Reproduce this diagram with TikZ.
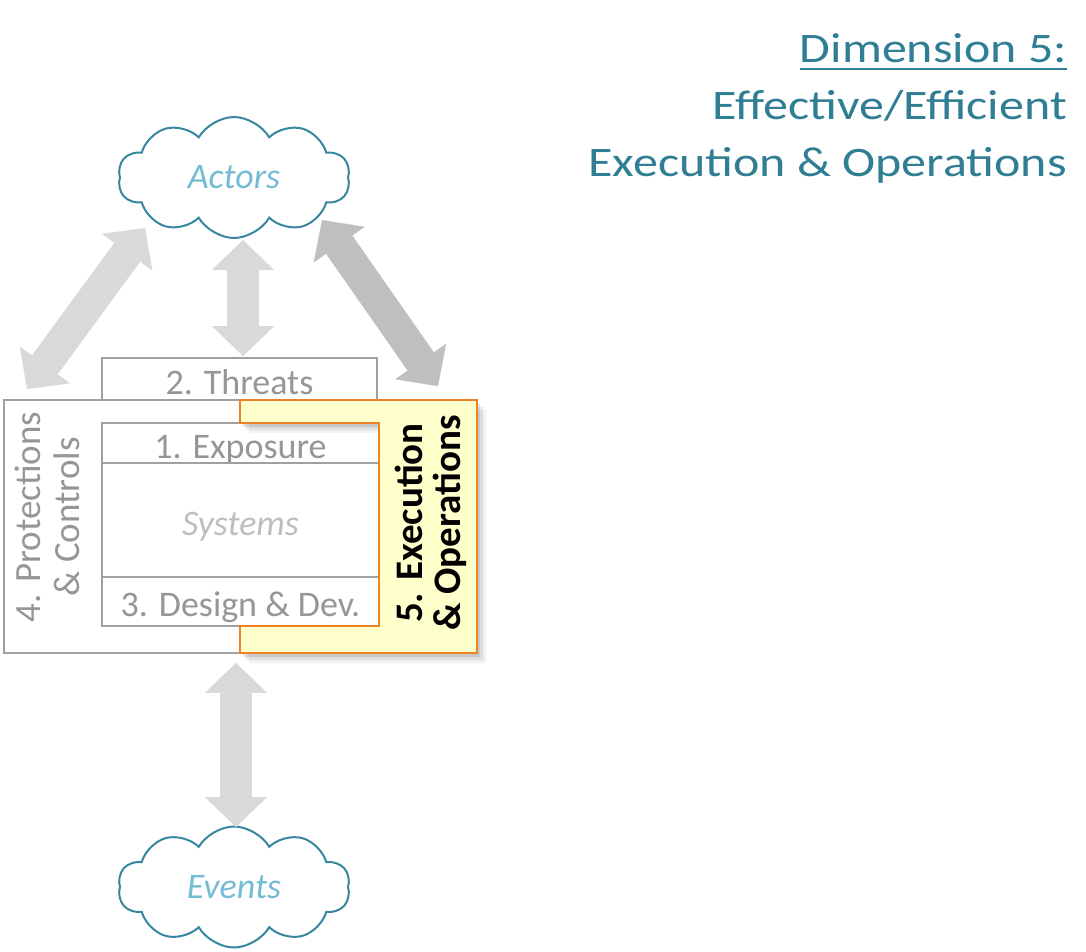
\documentclass[tikz,border=0pt]{standalone}
\usepackage{fontspec}
\setmainfont{Carlito}
\newfontfamily\titlefont[FakeStretch=1.19]{Carlito}
\usepackage{xcolor}
\usepackage{tikz}
\usetikzlibrary{shapes.symbols,arrows.meta,shadows,calc}

\definecolor{dimteal}{RGB}{47,126,147}
\definecolor{cloudline}{RGB}{55,135,160}
\definecolor{cloudtext}{RGB}{115,188,212}
\definecolor{boxgray}{RGB}{160,160,160}
\definecolor{textgray}{RGB}{150,150,150}
\definecolor{systext}{RGB}{190,190,190}
\definecolor{arrowlight}{RGB}{217,217,217}
\definecolor{arrowdark}{RGB}{191,191,191}
\definecolor{opsyellow}{RGB}{255,255,204}
\definecolor{opsorange}{RGB}{238,130,40}

\newcommand{\dimuline}[1]{\setbox0\hbox{#1}\rlap{\rule[-8pt]{\wd0}{2.5pt}}\box0}

\begin{document}
\begin{tikzpicture}[x=1pt,y=-1pt,
    box/.style={draw=boxgray,line width=1.8pt,fill=white,inner sep=0pt,text=textgray,
      text height=30pt,text depth=0pt,font=\fontsize{36}{38}\selectfont},
    cloudy/.style={cloud,cloud puffs=10,cloud puff arc=120,cloud ignores aspect,
      draw=cloudline,line width=2pt,fill=white,inner sep=0pt,
      minimum width=232pt,minimum height=121pt,text=cloudtext,
      font=\itshape\fontsize{36}{40}\selectfont},
    fatarrow/.style={line width=32pt,color=arrowlight,
      {Triangle[length=30pt,width=62pt,line width=0.1pt]}-{Triangle[length=30pt,width=62pt,line width=0.1pt]}}]
    \useasboundingbox (0,0) rectangle (1086,951);

    % clouds
    \node[cloudy] (actors) at (234,177.5) {Actors};
    \node[cloudy] (events) at (234,887) {Events};

    % title
    \node[anchor=north east,align=right,inner sep=0pt,text=dimteal,
      font=\titlefont\fontsize{42}{57}\selectfont] (dim) at (1067,33)
      {\dimuline{Dimension 5:}\\Effective/Efficient\\Execution \& Operations};

    % boxes
    \node[box,minimum width=275pt,minimum height=42pt] (threats) at (239.5,379) {2. Threats};
    \node[box,minimum width=473pt,minimum height=253pt] (prot) at (240.5,526.5) {};
    \node[box,minimum width=277pt,minimum height=40pt] (expo) at (240.5,443) {1. Exposure};
    \node[box,minimum width=277pt,minimum height=114pt,text=systext,
      font=\itshape\fontsize{36}{38}\selectfont] (sys) at (240.5,520) {Systems};
    \node[box,minimum width=277pt,minimum height=49pt] (design) at (240.5,601.5) {3. Design \& Dev.};
    \node[rotate=90,align=center,inner sep=0pt,text=textgray,
      font=\fontsize{37}{39}\selectfont] (prottext) at (47,517) {4. Protections\\\& Controls};

    % execution & operations
    \draw[opsorange,fill=opsyellow,line width=2.5pt,line join=miter,
      drop shadow={shadow xshift=3pt,shadow yshift=-4pt,opacity=0.10,fill=black},
      drop shadow={shadow xshift=6pt,shadow yshift=-7pt,opacity=0.08,fill=black},
      drop shadow={shadow xshift=9pt,shadow yshift=-10pt,opacity=0.05,fill=black}]
      (240,400) -- (477,400) -- (477,653) -- (240,653) -- (240,626)
      -- (379,626) -- (379,423) -- (240,423) -- cycle;
    \node[rotate=90,align=center,inner sep=0pt,
      font=\bfseries\fontsize{39}{38}\selectfont] (ops) at (431,523) {5. Execution\\\& Operations};

    % arrows
    \path [fatarrow] ($(actors.center)+(-89,50.5)$) edge ($(prot.north west)+(24,-10)$);
    \path [fatarrow] ($(actors.center)+(9,62.5)$) edge ($(threats.north)+(3.5,-1)$);
    \path [fatarrow,color=arrowdark] ($(actors.center)+(88,42.5)$) edge ($(prot.north east)+(-40,-13)$);
    \path [fatarrow] ($(prot.south)+(-4.5,9)$) edge ($(events.center)+(2,-60)$);
\end{tikzpicture}
\end{document}
